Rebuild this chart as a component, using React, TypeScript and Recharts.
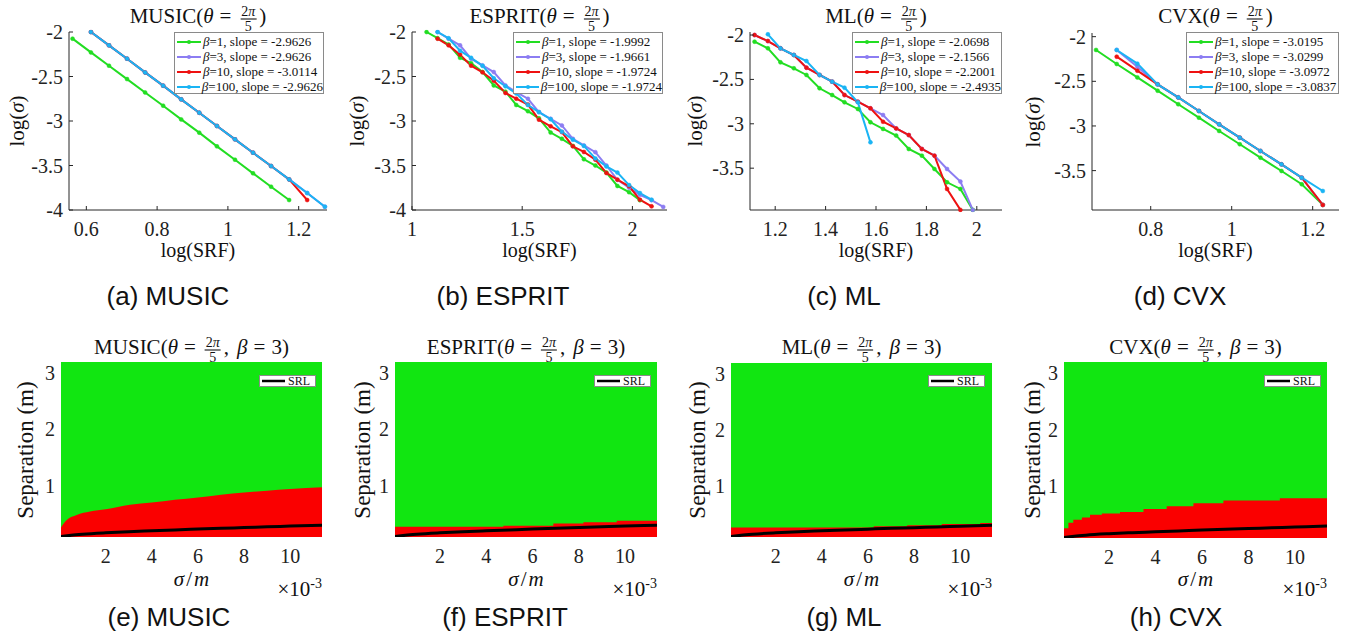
import React from "react";
import { ComposedChart, Line, Area, XAxis, YAxis, CartesianGrid } from "recharts";

const SERIF = '"Liberation Serif", "Times New Roman", serif';
const SANS = '"Liberation Sans", Arial, sans-serif';

const C_B1 = "#22dd22";
const C_B3 = "#8c7df2";
const C_B10 = "#ee1111";
const C_B100 = "#1ab4f4";
const HEAT_OK = "#11e611";
const HEAT_FAIL = "#fa0000";
const AXIS = "#262626";

// ---------- top row: log(sigma) vs log(SRF) ----------
const betas = [1, 3, 10, 100];

const musicSrfB1 = [0.561, 0.613, 0.664, 0.715, 0.766, 0.817, 0.868, 0.919, 0.969, 1.02, 1.071, 1.122, 1.173];
const musicSigB1 = [-2.075, -2.229, -2.379, -2.529, -2.679, -2.828, -2.982, -3.131, -3.285, -3.435, -3.588, -3.738, -3.888];
const musicSrfB3 = [0.613, 0.664, 0.715, 0.766, 0.817, 0.868, 0.919, 0.969, 1.02, 1.071, 1.122, 1.173, 1.224, 1.274];
const musicSigB3 = [-2.0, -2.15, -2.3, -2.454, -2.603, -2.757, -2.907, -3.056, -3.206, -3.356, -3.506, -3.656, -3.809, -3.963];
const musicSrfB10 = [0.613, 0.664, 0.715, 0.766, 0.817, 0.868, 0.919, 0.969, 1.02, 1.071, 1.122, 1.173, 1.224];
const musicSigB10 = [-2.0, -2.15, -2.3, -2.454, -2.603, -2.757, -2.907, -3.056, -3.206, -3.356, -3.506, -3.656, -3.888];
const musicSrfB100 = [0.613, 0.664, 0.715, 0.766, 0.817, 0.868, 0.919, 0.969, 1.02, 1.071, 1.122, 1.173, 1.224, 1.274];
const musicSigB100 = [-2.0, -2.15, -2.3, -2.454, -2.603, -2.757, -2.907, -3.056, -3.206, -3.356, -3.506, -3.656, -3.809, -3.963];
const musicSlopes = [-2.9626, -2.9626, -3.0114, -2.9626];

const espritSrfB1 = [1.066, 1.116, 1.166, 1.218, 1.268, 1.32, 1.371, 1.424, 1.473, 1.526, 1.576, 1.629, 1.68, 1.73, 1.78, 1.832, 1.882, 1.932, 1.985, 2.034];
const espritSigB1 = [-2.0, -2.07, -2.14, -2.29, -2.35, -2.45, -2.6, -2.67, -2.82, -2.89, -2.97, -3.13, -3.2, -3.28, -3.43, -3.5, -3.58, -3.73, -3.8, -3.89];
const espritSrfB3 = [1.116, 1.166, 1.218, 1.268, 1.32, 1.371, 1.424, 1.473, 1.526, 1.576, 1.629, 1.68, 1.73, 1.78, 1.832, 1.882, 1.932, 1.985, 2.034, 2.087, 2.14];
const espritSigB3 = [-2.0, -2.075, -2.15, -2.3, -2.375, -2.45, -2.6, -2.675, -2.75, -2.9, -2.975, -3.05, -3.2, -3.275, -3.35, -3.5, -3.66, -3.75, -3.83, -3.89, -3.965];
const espritSrfB10 = [1.116, 1.166, 1.218, 1.268, 1.32, 1.371, 1.424, 1.473, 1.526, 1.576, 1.629, 1.68, 1.73, 1.78, 1.832, 1.882, 1.932, 1.985, 2.034, 2.087];
const espritSigB10 = [-2.075, -2.15, -2.255, -2.378, -2.453, -2.547, -2.685, -2.749, -2.816, -2.985, -3.06, -3.124, -3.285, -3.348, -3.434, -3.584, -3.659, -3.734, -3.884, -3.959];
const espritSrfB100 = [1.116, 1.166, 1.218, 1.268, 1.32, 1.371, 1.424, 1.473, 1.526, 1.576, 1.629, 1.68, 1.73, 1.78, 1.832, 1.882, 1.932, 1.985, 2.034, 2.087];
const espritSigB100 = [-2.0, -2.07, -2.21, -2.29, -2.38, -2.52, -2.61, -2.69, -2.82, -2.9, -2.98, -3.12, -3.21, -3.28, -3.42, -3.51, -3.58, -3.72, -3.81, -3.884];
const espritSlopes = [-1.9992, -1.9661, -1.9724, -1.9724];

const mlSrfB1 = [1.118, 1.171, 1.221, 1.274, 1.324, 1.376, 1.426, 1.475, 1.528, 1.578, 1.628, 1.68, 1.73, 1.782, 1.832, 1.882, 1.935, 1.984];
const mlSigB1 = [-2.075, -2.15, -2.308, -2.375, -2.45, -2.6, -2.676, -2.758, -2.833, -2.983, -3.058, -3.133, -3.284, -3.359, -3.509, -3.659, -3.734, -3.97];
const mlSrfB3 = [1.118, 1.171, 1.221, 1.274, 1.324, 1.376, 1.426, 1.475, 1.528, 1.578, 1.628, 1.68, 1.73, 1.782, 1.832, 1.882, 1.935, 1.984];
const mlSigB3 = [-2.0, -2.068, -2.15, -2.225, -2.368, -2.45, -2.525, -2.676, -2.751, -2.826, -2.901, -3.052, -3.127, -3.284, -3.359, -3.509, -3.651, -3.97];
const mlSrfB10 = [1.118, 1.171, 1.221, 1.274, 1.324, 1.376, 1.426, 1.475, 1.528, 1.578, 1.628, 1.68, 1.73, 1.782, 1.832, 1.882, 1.935];
const mlSigB10 = [-2.0, -2.068, -2.15, -2.225, -2.368, -2.45, -2.525, -2.676, -2.751, -2.826, -2.977, -3.052, -3.127, -3.284, -3.359, -3.734, -3.97];
const mlSrfB100 = [1.171, 1.221, 1.274, 1.324, 1.376, 1.426, 1.475, 1.528, 1.578];
const mlSigB100 = [-1.992, -2.15, -2.225, -2.293, -2.45, -2.525, -2.593, -2.758, -3.209];
const mlSlopes = [-2.0698, -2.1566, -2.2001, -2.4935];

const cvxSrfB1 = [0.665, 0.716, 0.767, 0.817, 0.868, 0.919, 0.969, 1.02, 1.071, 1.123, 1.173, 1.225];
const cvxSigB1 = [-2.149, -2.306, -2.456, -2.605, -2.757, -2.907, -3.056, -3.205, -3.355, -3.504, -3.653, -3.884];
const cvxSrfB3 = [0.716, 0.767, 0.817, 0.868, 0.919, 0.969, 1.02, 1.071, 1.123, 1.173, 1.225];
const cvxSigB3 = [-2.149, -2.336, -2.534, -2.68, -2.832, -2.982, -3.131, -3.28, -3.43, -3.579, -3.884];
const cvxSrfB10 = [0.716, 0.767, 0.817, 0.868, 0.919, 0.969, 1.02, 1.071, 1.123, 1.173, 1.225];
const cvxSigB10 = [-2.224, -2.381, -2.534, -2.68, -2.832, -2.982, -3.131, -3.28, -3.43, -3.579, -3.884];
const cvxSrfB100 = [0.716, 0.767, 0.817, 0.868, 0.919, 0.969, 1.02, 1.071, 1.123, 1.173, 1.225];
const cvxSigB100 = [-2.149, -2.302, -2.534, -2.68, -2.832, -2.982, -3.131, -3.28, -3.43, -3.579, -3.728];
const cvxSlopes = [-3.0195, -3.0299, -3.0972, -3.0837];

// ---------- bottom row: resolution maps ----------
const heatBeta = 3;
const srlSigma = [0.06, 0.5, 1, 2, 3, 4, 5, 6, 7, 8, 9, 10, 11.38];
const srlSep = [0.1, 0.122, 0.14, 0.165, 0.184, 0.2, 0.215, 0.23, 0.244, 0.257, 0.27, 0.283, 0.3];

const musicEdgeSigma = [0.06, 0.31, 0.74, 1.32, 2.0, 3.05, 4.0, 5.0, 6.0, 7.0, 8.0, 9.0, 10.0, 11.38];
const musicEdgeSep = [0.26, 0.39, 0.48, 0.54, 0.58, 0.66, 0.7, 0.75, 0.79, 0.84, 0.88, 0.91, 0.94, 0.97];
const espritEdgeSigma = [0.06, 4.74, 6.9, 8.2, 9.64, 11.38];
const espritEdgeSep = [0.27, 0.29, 0.33, 0.35, 0.38, 0.38];
const mlEdgeSigma = [0.06, 6.25, 7.7, 9.2, 10.87, 11.38];
const mlEdgeSep = [0.26, 0.28, 0.3, 0.32, 0.34, 0.34];
const cvxEdgeSigma = [0.06, 0.25, 0.46, 0.83, 1.18, 1.69, 2.47, 3.48, 4.48, 5.63, 6.92, 9.35, 11.38];
const cvxEdgeSep = [0.26, 0.36, 0.41, 0.45, 0.5, 0.52, 0.55, 0.6, 0.65, 0.7, 0.75, 0.79, 0.79];

const zip = (xs: number[], ys: number[]) => xs.map((x, i) => ({ x, y: ys[i] }));
const colors = [C_B1, C_B3, C_B10, C_B100];

const mkSeries = (xs: number[][], ys: number[][], slopes: number[]) =>
  betas.map((b, i) => ({ beta: b, slope: slopes[i], color: colors[i], data: zip(xs[i], ys[i]) }));

type Rect = { x: number; y: number; w: number; h: number };

const topPanels = [
  {
    name: "MUSIC", caption: "(a) MUSIC", capX: 168, ylabX: 17, legX: 174, legW: 150,
    plot: { x: 69, y: 32, w: 258, h: 178 }, xDomain: [0.551, 1.28], xTicks: [0.6, 0.8, 1, 1.2],
    yDomain: [-4, -2], yTicks: [-4, -3.5, -3, -2.5, -2],
    series: mkSeries([musicSrfB1, musicSrfB3, musicSrfB10, musicSrfB100], [musicSigB1, musicSigB3, musicSigB10, musicSigB100], musicSlopes),
  },
  {
    name: "ESPRIT", caption: "(b) ESPRIT", capX: 503, ylabX: 357, legX: 513, legW: 150,
    plot: { x: 412, y: 32, w: 255, h: 178 }, xDomain: [1, 2.157], xTicks: [1, 1.5, 2],
    yDomain: [-4, -2], yTicks: [-4, -3.5, -3, -2.5, -2],
    series: mkSeries([espritSrfB1, espritSrfB3, espritSrfB10, espritSrfB100], [espritSigB1, espritSigB3, espritSigB10, espritSigB100], espritSlopes),
  },
  {
    name: "ML", caption: "(c) ML", capX: 844, ylabX: 695, legX: 852, legW: 150,
    plot: { x: 750, y: 32, w: 252, h: 178 }, xDomain: [1.1, 2.1], xTicks: [1.2, 1.4, 1.6, 1.8, 2],
    yDomain: [-3.971, -1.966], yTicks: [-3.5, -3, -2.5, -2],
    series: mkSeries([mlSrfB1, mlSrfB3, mlSrfB10, mlSrfB100], [mlSigB1, mlSigB3, mlSigB10, mlSigB100], mlSlopes),
  },
  {
    name: "CVX", caption: "(d) CVX", capX: 1180, ylabX: 1033, legX: 1186, legW: 153,
    plot: { x: 1092, y: 33, w: 247, h: 177 }, xDomain: [0.655, 1.265], xTicks: [0.8, 1, 1.2],
    yDomain: [-3.941, -1.959], yTicks: [-3.5, -3, -2.5, -2],
    series: mkSeries([cvxSrfB1, cvxSrfB3, cvxSrfB10, cvxSrfB100], [cvxSigB1, cvxSigB3, cvxSigB10, cvxSigB100], cvxSlopes),
  },
];

const bottomPanels = [
  { name: "MUSIC", caption: "(e) MUSIC", capX: 169, ylabX: 25, legX: 259, plot: { x: 61, y: 362, w: 261, h: 175 }, edge: zip(musicEdgeSigma, musicEdgeSep), step: false },
  { name: "ESPRIT", caption: "(f) ESPRIT", capX: 505, ylabX: 362, legX: 594, plot: { x: 395, y: 362, w: 262, h: 175 }, edge: zip(espritEdgeSigma, espritEdgeSep), step: true },
  { name: "ML", caption: "(g) ML", capX: 844, ylabX: 697, legX: 928, plot: { x: 731, y: 363, w: 261, h: 174 }, edge: zip(mlEdgeSigma, mlEdgeSep), step: true },
  { name: "CVX", caption: "(h) CVX", capX: 1176, ylabX: 1032, legX: 1264, plot: { x: 1064, y: 362, w: 263, h: 176 }, edge: zip(cvxEdgeSigma, cvxEdgeSep), step: true },
];
const srlData = zip(srlSigma, srlSep);

const PAD_L = 50, PAD_T = 14, PAD_R = 6, PAD_B = 34;

const tickStyle = { fontFamily: SERIF, fontSize: 20 };

const makeXTick = (inward: boolean) => (p: any) => (
  <g>
    {inward && <line x1={p.x} y1={p.y} x2={p.x} y2={p.y - 4} stroke={AXIS} />}
    <text x={p.x} y={p.y + 19} textAnchor="middle" dominantBaseline="central" style={tickStyle} fill="#222">
      {String(p.payload.value)}
    </text>
  </g>
);
const makeYTick = (inward: boolean) => (p: any) => (
  <g>
    {inward && <line x1={p.x} y1={p.y} x2={p.x + 4} y2={p.y} stroke={AXIS} />}
    <text x={p.x - 6} y={p.y} textAnchor="end" dominantBaseline="central" style={tickStyle} fill="#222">
      {String(p.payload.value)}
    </text>
  </g>
);

function Frac() {
  return (
    <span style={{ display: "inline-flex", flexDirection: "column", alignItems: "center", fontSize: 14, lineHeight: "12px", margin: "0 3px", position: "relative", top: 3 }}>
      <span style={{ borderBottom: "1px solid #000", padding: "0 1px 1px" }}>2<i>π</i></span>
      <span style={{ paddingTop: 1 }}>5</span>
    </span>
  );
}

function Title({ name, cx, cy, withBeta }: { name: string; cx: number; cy: number; withBeta: boolean }) {
  return (
    <div style={{ position: "absolute", left: cx, top: cy, transform: "translate(-50%,-50%)", display: "flex", alignItems: "center", whiteSpace: "nowrap", fontFamily: SERIF, fontSize: 21, lineHeight: "21px" }}>
      <span>{name}(</span>
      <i>θ</i>
      <span style={{ margin: "0 6px" }}>=</span>
      <Frac />
      {withBeta && (
        <>
          <span>,</span>
          <i style={{ marginLeft: 8 }}>β</i>
          <span style={{ margin: "0 6px" }}>=</span>
          <span>{heatBeta}</span>
        </>
      )}
      <span>)</span>
    </div>
  );
}

function Text({ x, y, size, rotate, children, family }: any) {
  return (
    <div style={{ position: "absolute", left: x, top: y, transform: `translate(-50%,-50%)${rotate ? " rotate(-90deg)" : ""}`, whiteSpace: "nowrap", fontFamily: family || SERIF, fontSize: size, lineHeight: 1 }}>
      {children}
    </div>
  );
}

function TopLegend({ series, left, width }: any) {
  return (
    <div style={{ position: "absolute", left, top: 32, width, height: 62, boxSizing: "border-box", border: "1px solid #8a8a8a", background: "#fff", padding: "1px 0 0 2px", fontFamily: SERIF, fontSize: 13 }}>
      {series.map((s: any) => (
        <div key={s.beta} style={{ display: "flex", alignItems: "center", height: 15 }}>
          <svg width={24} height={10}>
            <line x1={0} y1={5} x2={24} y2={5} stroke={s.color} strokeWidth={2} />
            <circle cx={12} cy={5} r={2} fill={s.color} />
          </svg>
          <span style={{ marginLeft: 2, whiteSpace: "nowrap" }}>
            <i>β</i>={s.beta}, slope = {s.slope}
          </span>
        </div>
      ))}
    </div>
  );
}

function TopPanel({ cfg }: any) {
  const p: Rect = cfg.plot;
  return (
    <>
      <div style={{ position: "absolute", left: p.x - PAD_L, top: p.y - PAD_T }}>
        <ComposedChart width={p.w + PAD_L + PAD_R} height={p.h + PAD_T + PAD_B} margin={{ top: PAD_T, right: PAD_R, bottom: 0, left: 0 }}>
          <XAxis type="number" dataKey="x" domain={cfg.xDomain} ticks={cfg.xTicks} allowDataOverflow interval={0} tickSize={0} tickMargin={0} height={PAD_B} axisLine={{ stroke: AXIS }} tick={makeXTick(true)} />
          <YAxis type="number" dataKey="y" domain={cfg.yDomain} ticks={cfg.yTicks} allowDataOverflow interval={0} tickSize={0} tickMargin={0} width={PAD_L} axisLine={{ stroke: AXIS }} tick={makeYTick(true)} />
          {cfg.series.map((s: any) => (
            <Line key={s.beta} data={s.data} dataKey="y" type="linear" stroke={s.color} strokeWidth={2} dot={{ r: 2, fill: s.color, stroke: s.color, strokeWidth: 0.5, clipDot: false }} activeDot={false} isAnimationActive={false} />
          ))}
        </ComposedChart>
      </div>
      <Title name={cfg.name} cx={p.x + p.w / 2} cy={16} withBeta={false} />
      <TopLegend series={cfg.series} left={cfg.legX} width={cfg.legW} />
      <Text x={cfg.ylabX} y={p.y + p.h / 2} size={21} rotate>
        log(<i>σ</i>)
      </Text>
      <Text x={p.x + p.w / 2} y={250} size={20}>log(SRF)</Text>
      <Text x={cfg.capX} y={296} size={26} family={SANS}>{cfg.caption}</Text>
    </>
  );
}

function BottomPanel({ cfg }: any) {
  const p: Rect = cfg.plot;
  return (
    <>
      <div style={{ position: "absolute", left: p.x - PAD_L, top: p.y - PAD_T }}>
        <ComposedChart width={p.w + PAD_L + PAD_R} height={p.h + PAD_T + PAD_B} margin={{ top: PAD_T, right: PAD_R, bottom: 0, left: 0 }}>
          <CartesianGrid horizontal={false} vertical={false} fill={HEAT_OK} fillOpacity={1} stroke="none" />
          <XAxis type="number" dataKey="x" domain={[0.06, 11.38]} ticks={[2, 4, 6, 8, 10]} allowDataOverflow interval={0} tickSize={0} tickMargin={0} height={PAD_B} axisLine={false} tick={makeXTick(false)} />
          <YAxis type="number" dataKey="y" domain={[0.09, 3.19]} ticks={[1, 2, 3]} allowDataOverflow interval={0} tickSize={0} tickMargin={0} width={PAD_L} axisLine={false} tick={makeYTick(false)} />
          <Area data={cfg.edge} dataKey="y" type={cfg.step ? "stepAfter" : "monotone"} baseValue="dataMin" fill={HEAT_FAIL} fillOpacity={1} stroke="none" activeDot={false} isAnimationActive={false} />
          <Line data={srlData} dataKey="y" type="monotone" stroke="#000" strokeWidth={3} dot={false} activeDot={false} isAnimationActive={false} />
        </ComposedChart>
      </div>
      <Title name={cfg.name} cx={p.x + p.w / 2} cy={346.5} withBeta />
      <div style={{ position: "absolute", left: cfg.legX, top: 375, width: 57, height: 12, boxSizing: "border-box", border: "1px solid #8a8a8a", background: "#fff", display: "flex", alignItems: "center", fontFamily: SERIF, fontSize: 12, lineHeight: "10px" }}>
        <svg width={23} height={6} style={{ marginLeft: 2 }}>
          <line x1={0} y1={3} x2={23} y2={3} stroke="#000" strokeWidth={2.5} />
        </svg>
        <span style={{ marginLeft: 3 }}>SRL</span>
      </div>
      <Text x={cfg.ylabX} y={p.y + p.h / 2} size={23} rotate>Separation (m)</Text>
      <Text x={p.x + p.w / 2} y={579} size={21}>
        <i>σ</i>
        <span style={{ margin: "0 2px" }}>/</span>
        <i>m</i>
      </Text>
      <div style={{ position: "absolute", right: 1363 - (p.x + p.w), top: 579, whiteSpace: "nowrap", fontFamily: SERIF, fontSize: 21, lineHeight: "21px" }}>
        ×10<sup style={{ fontSize: 14, lineHeight: 0 }}>-3</sup>
      </div>
      <Text x={cfg.capX} y={617} size={26} family={SANS}>{cfg.caption}</Text>
    </>
  );
}

export default function App() {
  return (
    <div style={{ position: "absolute", left: 0, top: 0, width: 1363, height: 639, background: "#fff", fontFamily: SERIF, color: "#111", overflow: "hidden" }}>
      {topPanels.map((cfg) => (
        <TopPanel key={cfg.caption} cfg={cfg} />
      ))}
      {bottomPanels.map((cfg) => (
        <BottomPanel key={cfg.caption} cfg={cfg} />
      ))}
    </div>
  );
}
